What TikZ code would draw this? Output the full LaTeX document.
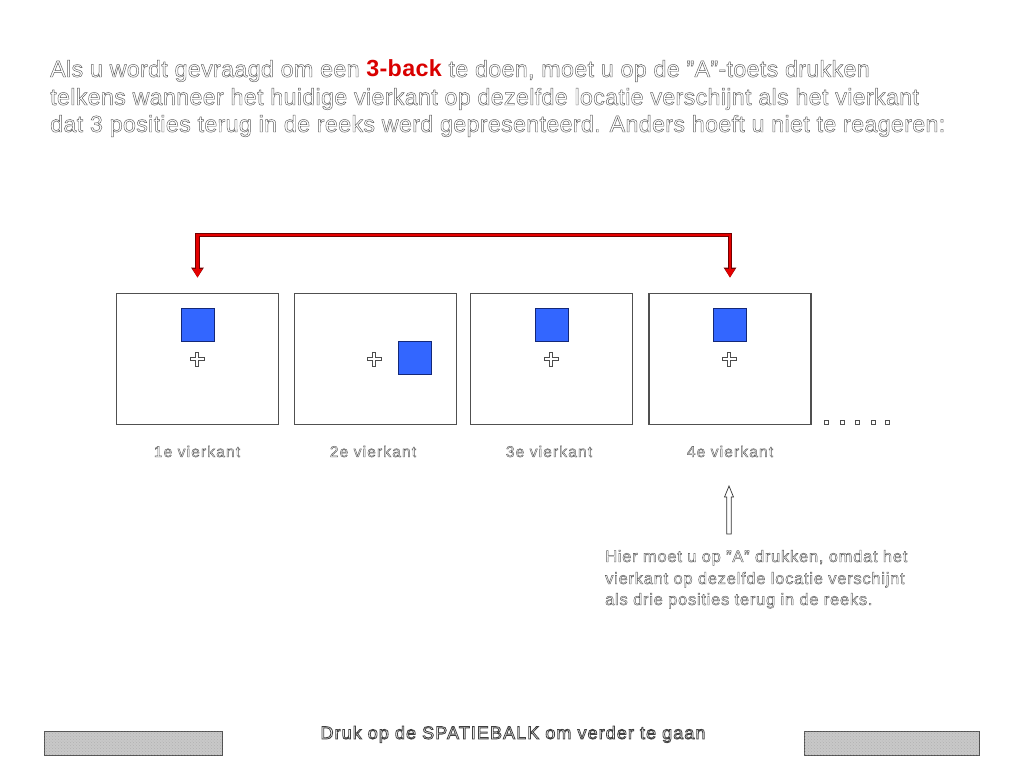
\documentclass[tikz,border=0pt]{standalone}
\usepackage{fontspec}
\setmainfont{Liberation Sans}
\usetikzlibrary{arrows.meta,patterns}
\newcommand\olt[1]{\special{pdf:literal direct 1 Tr 0.45 w}#1\special{pdf:literal direct 0 Tr}}
\newcommand\oltb[1]{\special{pdf:literal direct 1 Tr 0.8 w}#1\special{pdf:literal direct 0 Tr}}
\definecolor{sqblue}{RGB}{51,102,255}
\definecolor{sqedge}{RGB}{20,40,120}
\definecolor{txtgray}{RGB}{90,90,90}
\definecolor{framegray}{RGB}{80,80,80}
\definecolor{btnfill}{RGB}{200,200,200}
\tikzset{
  frame/.style={draw=framegray, line width=1.8pt, fill=white, minimum width=162pt, minimum height=131pt, inner sep=0pt},
  bluesq/.style={draw=sqedge, line width=0.8pt, fill=sqblue, minimum width=33pt, minimum height=33pt, inner sep=0pt},
  titleline/.style={anchor=base west, inner sep=0pt, font=\fontsize{23.3}{26}\selectfont\addfontfeature{LetterSpace=1.3}, text=txtgray},
  label/.style={anchor=base, inner sep=0pt, font=\fontsize{15.5}{17}\selectfont\addfontfeature{LetterSpace=7.5}, text=txtgray},
  noteline/.style={anchor=base west, inner sep=0pt, font=\fontsize{16.5}{17}\selectfont\addfontfeature{LetterSpace=4.5}, text=txtgray},
  button/.style={draw=framegray, line width=0.8pt, fill=btnfill, minimum height=24pt, inner sep=0pt,
    postaction={pattern=crosshatch dots, pattern color=gray!60}},
  plusmark/.pic={\draw[line width=0.6pt, draw=black!70, fill=white]
    (-1.5,-7) -- (1.5,-7) -- (1.5,-1.5) -- (7,-1.5) -- (7,1.5) -- (1.5,1.5) -- (1.5,7)
    -- (-1.5,7) -- (-1.5,1.5) -- (-7,1.5) -- (-7,-1.5) -- (-1.5,-1.5) -- cycle;},
  dotsq/.style={draw=black!70, line width=0.6pt, fill=white, minimum size=4pt, inner sep=0pt},
  redout/.style={draw=red!45!black, line width=4.6pt, {Triangle[width=12pt,length=10pt]}-{Triangle[width=12pt,length=10pt]}},
  redin/.style={draw=red!90!black, line width=2.8pt, {Triangle[width=9pt,length=8.5pt]}-{Triangle[width=9pt,length=8.5pt]}},
}
\begin{document}
\begin{tikzpicture}[x=1pt,y=-1pt]
\useasboundingbox (0,0) rectangle (1024,768);
% title
\node[titleline] (t1) at (50,77) {\olt{Als u wordt gevraagd om een }{\bfseries\color{red!85!black}3-back}\olt{ te doen, moet u op de "A"-toets drukken}};
\node[titleline] (t2) at (50,105) {\olt{telkens wanneer het huidige vierkant op dezelfde locatie verschijnt als het vierkant}};
\node[titleline] (t3) at (50,132) {\olt{dat 3 posities terug in de reeks werd gepresenteerd. Anders hoeft u niet te reageren:}};
% frames
\node[frame] (f1) at (197.5,359) {};
\node[frame] (f2) at (375.5,359) {};
\node[frame] (f3) at (551.5,359) {};
\node[frame] (f4) at (730,359) {};
% squares
\node[bluesq] (s1) at (197.5,325) {};
\node[bluesq] (s2) at (415,357.5) {};
\node[bluesq] (s3) at (552,325) {};
\node[bluesq] (s4) at (729.5,325) {};
% crosses
\pic at (197,359) {plusmark};
\pic at (374,359) {plusmark};
\pic at (551,359) {plusmark};
\pic at (729,359) {plusmark};
% dots
\foreach \i/\x in {1/826,2/842,3/857,4/873,5/887}{\node[dotsq] (d\i) at (\x,422) {};}
% labels
\node[label] (l1) at (197,457) {\olt{1e vierkant}};
\node[label] (l2) at (373,457) {\olt{2e vierkant}};
\node[label] (l3) at (549,457) {\olt{3e vierkant}};
\node[label] (l4) at (730,457) {\olt{4e vierkant}};
% red connector
\coordinate (a1) at ([yshift=15pt]f1.north);
\coordinate (a4) at ([yshift=15pt]f4.north);
\coordinate (top) at (0,235);
\draw[redout] (a1) -- (a1 |- top) -- (a4 |- top) -- (a4);
\draw[redin] (a1) -- (a1 |- top) -- (a4 |- top) -- (a4);
% note
\node[noteline] (n1) at (605,562) {\olt{Hier moet u op "A" drukken, omdat het}};
\node[noteline] (n2) at (605,584) {\olt{vierkant op dezelfde locatie verschijnt}};
\node[noteline] (n3) at (605,605) {\olt{als drie posities terug in de reeks.}};
% hollow up arrow
\coordinate (tip) at (729,486);
\draw[line width=0.7pt, draw=black!80, fill=white] (tip) -- ++(4.5,11) -- ++(-2.2,0) -- ++(0,37) -- ++(-4.6,0) -- ++(0,-37) -- ++(-2.2,0) -- cycle;
% bottom
\node[button, minimum width=178pt] (b1) at (133,743) {};
\node[button, minimum width=175pt] (b2) at (891.5,743) {};
\node[anchor=base, inner sep=0pt, font=\fontsize{18}{21}\selectfont\addfontfeature{LetterSpace=6.0}, text=black!75] (go) at (513,739) {\oltb{Druk op de SPATIEBALK om verder te gaan}};
\end{tikzpicture}
\end{document}
